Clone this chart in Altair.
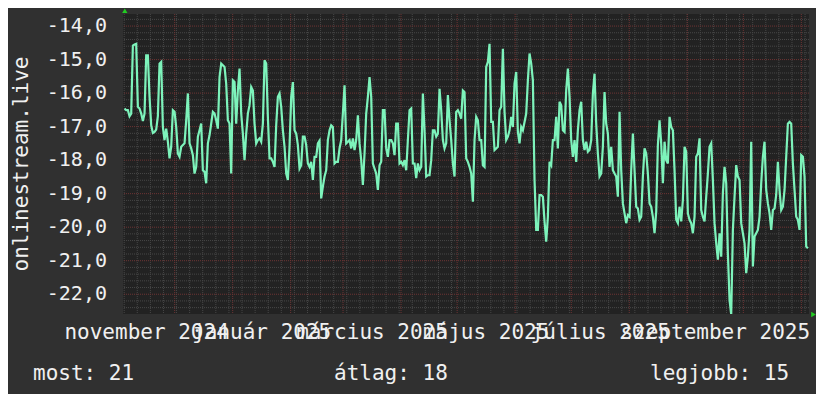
import altair as alt
import pandas as pd

# ---------------- data ----------------
START = pd.Timestamp("2024-11-03")          # day 0 of the time axis
X_MIN_DAY, X_MAX_DAY = 0.37, 367.1          # visible time window (days after START)
Y_MIN, Y_MAX = -22.59, -13.64               # visible value window
SAMPLE_FIRST_DAY = 1.19                     # first sample (days after START)
SAMPLE_STEP_DAYS = 0.891                    # spacing of samples

rank_values = [
    -16.46, -16.51, -16.51, -16.69, -16.61, -14.58, -14.55, -14.53, -16.41, -16.46,
    -16.61, -16.83, -16.61, -14.87, -14.87, -16.11, -16.96, -17.19, -17.16, -17.09,
    -16.69, -15.12, -15.07, -17.01, -17.40, -17.06, -17.45, -17.95, -17.60, -16.51,
    -16.56, -17.01, -17.80, -17.90, -17.60, -17.55, -17.50, -16.81, -16.01, -17.50,
    -17.65, -17.85, -18.40, -18.20, -17.30, -17.11, -16.91, -18.30, -18.35, -18.69,
    -17.50, -17.26, -16.91, -16.56, -16.61, -16.81, -17.06, -15.52, -15.12, -15.17,
    -15.22, -15.72, -16.81, -16.91, -18.40, -15.62, -15.67, -16.91, -15.92, -15.27,
    -16.61, -17.21, -18.00, -17.21, -16.61, -16.36, -15.82, -15.92, -16.91, -17.50,
    -17.40, -17.35, -17.45, -16.91, -15.02, -15.12, -16.71, -17.95, -17.95, -18.05,
    -18.20, -16.96, -16.11, -16.01, -16.41, -17.11, -17.60, -18.40, -18.59, -17.60,
    -16.11, -15.67, -17.11, -17.21, -17.55, -18.25, -18.15, -17.30, -17.30, -17.55,
    -18.10, -18.20, -18.05, -18.59, -17.90, -17.90, -17.50, -17.42, -19.14, -18.79,
    -18.49, -18.30, -17.40, -17.11, -16.96, -17.01, -18.10, -18.05, -18.05, -17.65,
    -17.40, -16.61, -15.77, -17.50, -17.45, -17.40, -17.65, -17.35, -17.70, -17.40,
    -16.66, -17.50, -18.00, -18.74, -17.80, -16.61, -16.11, -15.52, -16.11, -18.10,
    -18.25, -18.40, -18.89, -18.15, -18.05, -16.51, -16.51, -17.65, -17.90, -17.40,
    -17.40, -17.50, -17.85, -16.91, -16.91, -18.10, -18.05, -18.15, -18.00, -18.30,
    -17.40, -16.51, -16.46, -18.10, -18.10, -18.54, -18.10, -18.30, -18.20, -16.01,
    -17.11, -18.49, -18.45, -18.45, -18.00, -17.11, -17.11, -17.30, -17.21, -15.87,
    -16.51, -17.40, -17.65, -17.50, -16.06, -16.81, -17.40, -18.10, -18.49, -16.56,
    -16.51, -16.61, -16.76, -15.92, -15.97, -17.95,
    -18.05, -18.20, -18.40, -19.24, -17.40, -16.71, -16.81, -17.40, -17.40, -18.15,
    -18.20, -15.22, -15.07, -14.53, -16.86, -16.86, -17.70, -17.65, -17.60, -16.51,
    -16.41, -14.68, -16.56, -17.40, -17.30, -17.11, -16.71, -17.01, -15.72, -15.37,
    -17.16, -17.50, -17.01, -17.11, -16.86, -16.61, -15.62, -14.82, -15.12, -15.62,
    -18.59, -20.08, -20.08, -19.04, -19.04, -19.09, -19.83, -20.43, -19.69, -18.05,
    -18.15, -17.40, -17.40, -16.71, -17.65, -16.26, -16.36, -17.11, -17.16, -15.92,
    -15.27, -16.11, -17.40, -17.90, -17.40, -18.05, -17.11, -16.51, -16.26, -17.40,
    -17.70, -17.45, -17.75, -17.70, -17.40, -16.01, -15.42, -16.91, -17.80, -18.49,
    -18.40, -17.60, -15.97, -16.91, -17.21, -18.20, -17.60, -18.30, -18.40, -18.49,
    -19.09, -16.56, -18.30, -19.29, -19.59, -19.88, -19.64, -19.69, -18.30, -17.21,
    -18.30, -19.39, -19.44, -19.78, -19.69, -18.49, -17.65, -17.80, -18.40, -19.29,
    -19.39, -19.69, -20.18, -19.54, -17.55, -16.81, -17.50, -18.69, -17.45, -18.00,
    -18.10, -16.71, -17.01, -17.11, -18.30, -19.78, -19.88, -19.39, -19.83, -19.19,
    -17.60, -17.75, -19.59, -19.78, -19.88, -20.18, -19.69, -17.90, -17.80, -17.35,
    -19.49, -19.69, -19.83, -19.09, -18.40, -17.60, -17.50, -18.59, -19.88, -20.48,
    -20.97, -20.18, -20.88, -18.99, -18.20, -18.69, -20.78, -22.17, -22.61, -20.08,
    -19.09, -18.15, -18.49, -18.59, -19.88, -20.18, -20.48, -21.37, -20.88, -20.08,
    -17.45, -21.17, -20.28, -20.18, -20.08, -19.69, -18.69, -17.90, -17.45, -18.89,
    -19.29, -19.59, -20.08, -19.49, -19.44, -19.04, -18.05, -18.89, -19.49, -19.39,
    -18.89, -17.90, -16.91, -16.86, -16.91, -18.10, -18.89, -19.69, -19.78, -20.08,
    -17.85, -17.90, -18.49, -20.58, -20.63,
]

month_starts = ["2024-12-01", "2025-01-01", "2025-02-01", "2025-03-01", "2025-04-01",
                "2025-05-01", "2025-06-01", "2025-07-01", "2025-08-01", "2025-09-01",
                "2025-10-01", "2025-11-01"]
x_label_months = ["2024-11-01", "2025-01-01", "2025-03-01", "2025-05-01",
                  "2025-07-01", "2025-09-01"]
x_label_text = ["november 2024", "január 2025", "március 2025", "május 2025",
                "július 2025", "szeptember 2025"]
y_ticks = [-14, -15, -16, -17, -18, -19, -20, -21, -22]
y_title = "onlinestream.live"
legend_text = ["most: 21", "átlag: 18", "legjobb: 15"]

# ---------------- helpers ----------------
def day_of(ts):
    return (pd.Timestamp(ts) - START) / pd.Timedelta(days=1)

FONT = "DejaVu Sans Mono"
TXT = "#f0f0f0"
LINE = "#7df3bb"
MINOR = "#474747"
MAJOR = "#6e3434"
W, H = 686, 300

line_df = pd.DataFrame({
    "day": [SAMPLE_FIRST_DAY + SAMPLE_STEP_DAYS * i for i in range(len(rank_values))],
    "rank": rank_values,
})

week_days = [day_of(d) for d in pd.date_range("2024-11-04", "2025-11-03", freq="7D")]
month_days = [day_of(d) for d in month_starts]
minor_y = [round(-22.4 + 0.2 * k, 1) for k in range(44)]
minor_y = [v for v in minor_y if abs(v - round(v)) > 1e-6]

mids = []
for m in x_label_months:
    a = pd.Timestamp(m)
    b = a + pd.offsets.MonthBegin(1)
    mids.append(day_of(a + (b - a) / 2))

xs = alt.Scale(domain=[X_MIN_DAY, X_MAX_DAY], nice=False, zero=False)
ys = alt.Scale(domain=[Y_MIN, Y_MAX], nice=False, zero=False)

def vrules(days, color):
    return alt.Chart(pd.DataFrame({"d": days})).mark_rule(
        color=color, strokeWidth=1, strokeDash=[1, 1]
    ).encode(x=alt.X("d:Q", scale=xs, axis=None))

def hrules(vals, color):
    return alt.Chart(pd.DataFrame({"v": vals})).mark_rule(
        color=color, strokeWidth=1, strokeDash=[1, 1]
    ).encode(y=alt.Y("v:Q", scale=ys, axis=None))

grid = alt.layer(
    hrules(minor_y, MINOR),
    vrules(week_days, MINOR),
    hrules([float(v) for v in y_ticks], MAJOR),
    vrules(month_days, MAJOR),
)

line = alt.Chart(line_df).mark_line(color=LINE, strokeWidth=2.2, clip=True).encode(
    x=alt.X("day:Q", scale=xs, axis=None),
    y=alt.Y("rank:Q", scale=ys, axis=None),
)

ylab_df = pd.DataFrame({
    "v": [float(v) for v in y_ticks],
    "t": [f"{v:.1f}".replace(".", ",") for v in y_ticks],
})
ylabels = alt.Chart(ylab_df).mark_text(
    font=FONT, fontSize=20, color=TXT, align="right", baseline="middle"
).encode(x=alt.value(-16), y=alt.Y("v:Q", scale=ys, axis=None), text="t:N")

xlab_df = pd.DataFrame({"d": mids, "t": x_label_text})
xlabels = alt.Chart(xlab_df).mark_text(
    font=FONT, fontSize=21, color=TXT, align="center", baseline="alphabetic"
).encode(x=alt.X("d:Q", scale=xs, axis=None), y=alt.value(325), text="t:N")

ytitle = alt.Chart(pd.DataFrame({"t": [y_title]})).mark_text(
    font=FONT, fontSize=21, color=TXT, align="center", baseline="alphabetic", angle=270
).encode(x=alt.value(-95), y=alt.value(150), text="t:N")

leg_df = pd.DataFrame({"t": legend_text, "px": [-90, 211, 527]})
legend = alt.Chart(leg_df).mark_text(
    font=FONT, fontSize=21, color=TXT, align="left", baseline="alphabetic"
).encode(x=alt.X("px:Q", scale=None, axis=None), y=alt.value(366), text="t:N")

up_arrow = alt.Chart(pd.DataFrame({"a": [0]})).mark_point(
    shape="triangle-up", filled=True, size=28, color="#22cc22", opacity=1
).encode(x=alt.value(1.8), y=alt.value(-3.3))
right_arrow = alt.Chart(pd.DataFrame({"a": [0]})).mark_point(
    shape="triangle-right", filled=True, size=28, color="#22cc22", opacity=1
).encode(x=alt.value(690.5), y=alt.value(300.5))

chart = alt.layer(
    grid, line, ylabels, xlabels, ytitle, legend, up_arrow, right_arrow
).properties(
    width=W, height=H,
    autosize=alt.AutoSizeParams(type="none"),
    padding={"left": 115, "top": 6, "right": 7, "bottom": 80},
    background="#303030",
).configure_view(fill="#222222", strokeWidth=0)

chart.save("out.html", embed_options={"renderer": "svg", "actions": False})
